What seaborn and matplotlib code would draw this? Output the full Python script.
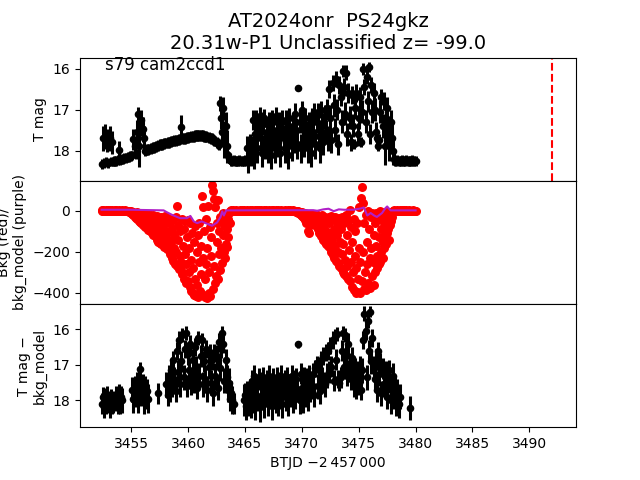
import numpy as np
import matplotlib
matplotlib.use("Agg")
import matplotlib.pyplot as plt
import seaborn as sns

nan = np.nan

# observation cadence of the light curve (days)
t_start = 3452.4
cadence = 0.1

# T mag (top panel), one row per day
t_mag = [
    18.32, 17.70, 18.30, 17.66, 18.28, 17.75, 18.30, 17.70, 18.27, 17.80,
    18.27, 18.26, 18.26, 18.25, 18.24, 17.98, 18.23, 18.22, 18.21, 18.20,
    18.19, 18.18, 18.17, 18.16, 18.15, 18.14, 18.13, 18.12, 17.73, 17.88,
    18.08, 17.55, 17.12, 17.90, 17.35, 17.25, 17.48, 17.70, 18.02, 18.00,
    17.98, 17.97, 17.96, 17.95, 17.94, 17.93, 17.92, 17.91, 17.90, 17.89,
    17.87, 17.86, 17.86, 17.85, 17.84, 17.83, 17.82, 17.82, 17.81, 17.80,
    17.79, 17.78, 17.77, 17.77, 17.76, 17.75, 17.74, 17.74, 17.73, 17.72,
    17.43, 17.71, 17.70, 17.70, 17.69, 17.68, 17.68, 17.67, 17.67, 17.66,
    17.65, 17.65, 17.64, 17.64, 17.63, 17.63, 17.63, 17.63, 17.64, 17.64,
    17.65, 17.65, 17.66, 17.67, 17.68, 17.69, 17.70, 17.71, 17.73, 17.75,
    17.77, 17.80, 17.83, 17.86, 16.85, 17.20, 17.55, 16.95, 17.73, 17.40,
    17.90, 18.12, 18.18, 18.22, 18.25, 18.25, 18.24, 18.25, 18.26, 18.25,
    18.25, 18.24, 18.25, 18.26, 18.25, 18.25, 18.24, 18.25, 17.95, 18.25,
    17.90, 18.25, 18.00, 17.25, 18.10, 17.60, 17.30, 17.95, 17.45, 17.15,
    17.70, 18.05, 17.35, 17.20, 17.85, 17.55, 17.95, 17.30, 17.65, 18.10,
    17.25, 17.60, 17.95, 17.15, 17.50, 17.80, 17.35, 18.05, 17.45, 17.25,
    17.70, 17.95, 17.30, 17.55, 18.10, 17.20, 17.65, 17.90, 17.40, 17.75,
    17.10, 17.50, 17.85, 16.47, 17.30, 17.95, 17.00, 17.45, 17.80, 17.20,
    17.60, 17.95, 17.35, 17.75, 18.05, 17.20, 17.55, 17.05, 17.85, 17.30,
    17.10, 17.65, 17.95, 17.00, 17.40, 17.80, 17.15, 17.55, 16.95, 17.70,
    16.50, 17.20, 17.75, 16.35, 16.90, 17.50, 16.25, 17.00, 17.85, 16.40,
    16.70, 17.30, 16.05, 16.45, 17.10, 16.10, 17.60, 16.60, 17.20, 17.80,
    16.65, 17.40, 17.85, 16.95, 16.60, 17.60, 17.20, 16.70, 17.80, 17.05,
    16.00, 16.45, 17.30, 16.20, 16.80, 15.95, 17.60, 16.40, 17.05, 16.60,
    17.00, 17.55, 17.70, 17.90, 17.75, 17.05, 16.70, 17.40, 16.80, 17.90,
    17.20, 16.95, 17.55, 17.85, 17.30, 17.70, 18.00, 18.20, 18.25, 18.25,
    18.24, 18.25, 18.26, 18.25, 18.24, 18.25, 18.26, 18.25, 18.24, 18.25,
    18.25, 18.26, 18.25, 18.24, 18.25, 18.26, 18.25,
]
t_mag_err = [
    .12, .30, .12, .30, .12, .28, .12, .30, .12, .28,
    .12, .12, .12, .12, .12, .22, .12, .12, .12, .12,
    .12, .12, .12, .12, .12, .12, .12, .12, .25, .22,
    .12, .30, .18, .50, .30, .25, .30, .30, .12, .12,
    .13, .13, .13, .13, .13, .13, .13, .13, .13, .13,
    .13, .13, .13, .13, .13, .13, .13, .13, .13, .13,
    .13, .13, .13, .13, .13, .13, .13, .13, .13, .13,
    .30, .13, .13, .13, .13, .13, .13, .13, .13, .13,
    .13, .13, .13, .13, .13, .13, .13, .13, .13, .13,
    .13, .13, .13, .13, .13, .13, .13, .13, .13, .13,
    .13, .13, .13, .13, .18, .28, .35, .25, .45, .35,
    .40, .12, .12, .12, .12, .12, .12, .12, .12, .12,
    .12, .12, .12, .12, .12, .12, .12, .12, .30, .30,
    .30, .12, .35, .25, .35, .30, .28, .35, .30, .22,
    .32, .35, .28, .22, .35, .30, .35, .25, .30, .35,
    .25, .30, .35, .22, .30, .35, .28, .35, .30, .25,
    .32, .35, .28, .30, .35, .25, .30, .35, .28, .32,
    .25, .30, .35, .06, .28, .35, .20, .30, .35, .25,
    .30, .35, .28, .32, .35, .25, .30, .22, .35, .28,
    .25, .30, .35, .20, .28, .32, .25, .30, .20, .30,
    .22, .30, .30, .20, .28, .30, .20, .25, .25, .22,
    .22, .28, .15, .22, .28, .18, .28, .25, .28, .20,
    .22, .28, .12, .28, .22, .28, .28, .25, .12, .28,
    .15, .20, .28, .18, .25, .12, .25, .20, .28, .25,
    .28, .25, .15, .12, .15, .28, .20, .30, .22, .45,
    .30, .25, .35, .40, .30, .35, .35, .15, .12, .12,
    .12, .12, .12, .12, .12, .12, .12, .12, .12, .12,
    .12, .12, .12, .12, .12, .12, .12,
]

# T mag - bkg_model (bottom panel), nan where there is no point
diff_mag = [
    18.10, 17.90, 18.20, 17.95, 18.15, 17.85, 18.05, 18.20, 17.95, 18.10,
    18.05, nan, nan, 17.95, 18.10, 17.85, 18.05, 17.90, 18.00, nan,
    nan, nan, nan, nan, nan, nan, nan, 17.70, 17.95, 17.60,
    17.85, 17.50, 17.95, 17.40, 17.13, 17.80, 17.55, 18.00, 17.65, 17.90,
    17.75, 17.95, nan, nan, nan, nan, nan, nan, nan, nan,
    17.80, nan, nan, nan, nan, nan, nan, 17.55, 17.85, 17.35,
    17.70, 17.15, 17.55, 16.85, 17.40, 17.75, 16.60, 17.20, 16.30, 17.55,
    16.90, 16.15, 17.35, 16.55, 16.10, 17.60, 16.70, 17.15, 16.40, 17.50,
    16.85, 17.45, 16.50, 17.10, 17.65, 16.25, 17.30, 16.75, 16.30, 17.55,
    16.90, 17.40, 16.55, 17.70, 17.05, 16.70, 17.50, 16.85, 17.80, 16.65,
    17.30, 16.75, 17.65, 16.35, 17.10, 16.55, 16.10, 16.40, 17.45, 16.85,
    17.35, 17.70, 17.50, 17.95, 17.80, 18.00, 18.10, nan, nan, nan,
    nan, nan, nan, nan, nan, 18.00, 17.85, 18.15, 17.75, 18.05,
    17.75, 18.10, 17.45, 17.95, 17.30, 18.15, 17.60, 17.90, 17.40, 18.20,
    17.55, 17.85, 17.35, 18.10, 17.70, 17.45, 18.05, 17.30, 17.80, 17.60,
    18.15, 17.40, 17.75, 17.95, 17.35, 18.05, 17.55, 17.85, 17.30, 18.10,
    17.65, 17.45, 17.90, 17.35, 18.05, 17.60, 17.80, 17.30, 17.95, 17.50,
    17.85, 17.40, 17.70, 16.42, 18.00, 17.25, 17.65, 17.95, 17.35, 17.80,
    17.45, 17.90, 17.30, 17.70, nan, 17.60, 17.25, 17.85, 17.10, 16.96,
    17.60, 17.15, 17.75, 16.85, 17.40, 16.75, 17.55, 16.65, 17.30, 16.60,
    17.20, 16.45, 17.05, 16.30, 17.45, 16.20, 16.85, 16.12, 17.40, 17.50,
    17.35, 16.60, 16.10, 17.05, 16.15, 16.75, 17.30, 16.40, 16.95, 17.40,
    16.80, 17.20, 17.55, 17.10, 17.65, 17.25, 17.50, 17.05, 17.70, 17.15,
    16.30, 15.55, 16.05, 17.35, 15.75, 16.60, 15.50, 16.90, 16.25, 17.10,
    17.40, 16.85, 17.70, 16.60, 17.25, 16.95, 17.80, 17.10, 17.55, 17.30,
    17.20, 17.90, 17.45, 17.15, 18.00, 17.60, 17.30, 17.85, 17.65, 18.05,
    17.75, 18.10, 17.90, nan, nan, nan, nan, nan, nan, nan,
    nan, 18.22, nan, nan, nan, nan, nan,
]
diff_err = [
    .30, .28, .30, .30, .25, .25, .30, .30, .28, .30,
    .30, 0, 0, .35, .30, .30, .35, .30, .35, 0,
    0, 0, 0, 0, 0, 0, 0, .35, .40, .30,
    .35, .30, .40, .35, .20, .35, .30, .40, .35, .35,
    .35, .40, 0, 0, 0, 0, 0, 0, 0, 0,
    .30, 0, 0, 0, 0, 0, 0, .35, .30, .35,
    .35, .30, .35, .25, .35, .30, .25, .35, .25, .35,
    .30, .20, .35, .25, .20, .30, .30, .35, .25, .35,
    .30, .35, .25, .35, .30, .20, .35, .30, .20, .35,
    .30, .35, .25, .35, .35, .30, .35, .30, .35, .25,
    .35, .30, .35, .25, .35, .25, .20, .25, .35, .30,
    .35, .35, .40, .35, .35, .40, .30, 0, 0, 0,
    0, 0, 0, 0, 0, .45, .35, .40, .30, .40,
    .35, .40, .30, .40, .30, .40, .35, .40, .30, .40,
    .35, .40, .30, .40, .35, .30, .40, .30, .40, .35,
    .40, .30, .35, .40, .30, .40, .35, .40, .30, .40,
    .35, .30, .40, .30, .40, .35, .40, .30, .40, .35,
    .40, .30, .35, .10, .40, .30, .35, .40, .30, .40,
    .35, .40, .30, .35, 0, .35, .30, .35, .25, .20,
    .35, .30, .35, .25, .35, .25, .35, .25, .35, .25,
    .30, .25, .30, .25, .30, .20, .30, .20, .25, .25,
    .30, .30, .20, .30, .20, .30, .30, .30, .30, .30,
    .30, .35, .35, .30, .30, .35, .35, .30, .30, .35,
    .25, .20, .25, .35, .20, .30, .15, .35, .25, .35,
    .35, .30, .35, .25, .35, .30, .35, .30, .35, .35,
    .30, .35, .35, .30, .40, .35, .35, .40, .35, .40,
    .35, .40, .35, 0, 0, 0, 0, 0, 0, 0,
    0, .35, 0, 0, 0, 0, 0,
]

# background flux (red), sampled twice as often, one row per day
bkg_cadence = 0.05
bkg = [
    2, -1, 0, 3, -2, 1, 0, -3, 2, 1, -1, 0, 2, -2, 1, 3, 0, -1, 2, 0,
    1, -2, 0, 2, -1, 0, 3, 1, -2, 0, 2, -1, 1, 0, -3, 2, 0, 1, -1, 0,
    0, 2, -1, 1, 0, -2, 1, -3, 0, -4, -6, -3, -10, -5, -15, -8, -20, -12, -28, -18,
    -10, -35, -8, -42, -15, -30, -50, -12, -55, -25, -60, -18, -45, -70, -20, -62, -35, -78, -15, -85,
    -25, -93, -40, -70, -18, -100, -55, -85, -30, -110, -20, -120, -65, -95, -35, -130, -50, -140, -25, -150,
    -80, -45, -155, -110, -30, -160, -70, -130, -40, -175, -95, -25, -165, -120, -60, -185, -140, -35, -190, -100,
    -210, -60, -150, -230, -90, -40, -245, -180, -120, -260, -30, -200, 21, -270, -140, -70, -285, -220, -100, -290,
    -250, -40, -310, -170, -90, -330, -210, -50, -350, -260, -130, -45, -340, -300, -180, -370, -60, -240, -390, -110,
    -400, -280, -150, -410, -330, -75, -415, -200, -360, -120, -420, -250, -60, -390, -310, -170, 70, -405, -230, 20,
    -100, -420, -330, -40, -260, -426, -180, 21, -400, -300, -80, -415, -220, -130, 127, 95, -380, 55, -270, -350,
    20, -320, -150, -60, 54, -330, -210, -100, -30, -290, -180, -40, -254, -120, -11, -200, -70, -230, -20, -160,
    -90, -174, -40, -130, -10, -60, 0, 2, -1, 1, 0, 3, -2, 0, 1, -1, 2, 0, -2, 1,
    0, 1, -2, 2, 0, -1, 3, 0, -2, 1, 0, 2, -1, 0, 1, -3, 2, 0, -1, 1,
    2, 0, -1, 1, -2, 3, 0, 1, -1, 0, 2, -2, 0, 1, 3, -1, 0, 2, -2, 0,
    -1, 2, 0, -2, 1, 0, 3, -1, 0, 2, -3, 1, 0, -1, 2, 0, 1, -2, 0, 3,
    0, -1, 2, 1, -2, 0, 1, 3, -1, 0, 2, 0, -2, 1, 0, -1, 3, 0, 1, -2,
    1, 0, -2, 2, 0, 1, -1, 3, 0, -2, 1, 0, 2, -1, 0, 1, -3, 2, 0, -1,
    0, -2, -5, 1, -8, -3, -12, -6, -15, -4, -20, -10, -25, -8, -30, -15, -35, -12, -45, -20,
    -60, -25, -100, -40, -109, -30, -70, -20, -55, -15, -45, -25, -60, -20, -50, -30, -70, -18, -80, -35,
    -90, -25, -60, -110, -30, -80, -125, -22, -95, -140, -40, -70, -150, -28, -100, -160, -50, -120, -170, -30,
    -60, -180, -110, -25, -200, -140, -40, -215, -90, -230, -30, -170, -245, -120, -60, -255, -200, -35, -270, -150,
    -90, -280, -210, -30, -300, -160, -60, -310, -240, -20, -320, -120, -270, -45, -330, -190, 5, -340, -250, -80,
    -370, -150, -300, -40, -385, -220, -100, -400, -280, -60, -395, -330, -180, 20, -400, -250, 60, -340, 118, 40,
    -200, -380, -60, -300, -20, -385, -150, -260, 0, -350, -90, -230, -375, -30, -180, -320, -10, -250, -120, -360,
    -60, -300, -170, -10, -280, -220, -40, -260, -130, 0, -250, -90, -200, -20, -150, -230, -60, -180, -5, -120,
    -160, -40, -110, -8, -90, -140, -20, -70, -50, -5, -30, -10, 0, -3, 2, 0, -1, 1, 0, 2,
    1, 0, -2, 1, 0, 2, -1, 0, 3, -1, 0, 2, -2, 1, 0, -1, 2, 0, 1, -1,
    0, 2, -1, 0, 1, -2, 0, 3, -1, 1, 0, -2, 1,
]

# background model (purple)
t_model = [3452.4, 3454.9, 3457.85, 3458.1, 3458.6, 3459.3, 3459.9, 3460.2, 3460.5, 3460.8,
           3461.2, 3461.7, 3462.1, 3462.55, 3462.85, 3463.0, 3463.15, 3463.35, 3463.6, 3471.0,
           3471.35, 3471.9, 3472.35, 3472.8, 3473.25, 3473.7, 3474.55, 3475.15, 3475.45, 3475.75,
           3476.05, 3476.35, 3476.6, 3477.05, 3477.35, 3477.5, 3477.8, 3480.0]
bkg_model = [5, 5, 2, -6, -20, -36, -36, -25, -52, -60,
             -52, -64, -73, -57, -31, -3, -23, 2, 2, 3,
             0, 7, 10, -2, 7, 5, 5, 11, 16, -23,
             -11, -23, -30, -11, 13, 21, 2, 2]

t_peak = 3492.0

t_obs = t_start + cadence * np.arange(len(t_mag))
t_bkg = t_start + bkg_cadence * np.arange(len(bkg))
t_mag = np.array(t_mag)
diff_mag = np.array(diff_mag)

fig, axes = plt.subplots(3, 1, sharex=True, figsize=(6.4, 4.8), dpi=100)
fig.subplots_adjust(hspace=0)
ax0, ax1, ax2 = axes

# top: T mag
ax0.errorbar(t_obs, t_mag, yerr=t_mag_err, fmt='none', ecolor='k', elinewidth=2.2, capsize=0)
sns.scatterplot(x=t_obs, y=t_mag, ax=ax0, color='k', s=30, linewidth=0, zorder=3)
ax0.axvline(t_peak, color='r', ls='--', lw=1.5)
ax0.set_ylim(18.74, 15.73)
ax0.set_yticks([16, 17, 18])
ax0.set_ylabel('T mag')
ax0.text(0.05, 0.9, 's79 cam2ccd1', transform=ax0.transAxes, fontsize=12)
ax0.set_title('AT2024onr  PS24gkz\n20.31w-P1 Unclassified z= -99.0', fontsize=14)

# middle: background
sns.scatterplot(x=t_bkg, y=bkg, ax=ax1, color='r', s=42, linewidth=0)
sns.lineplot(x=t_model, y=bkg_model, ax=ax1, color='#b020c8', lw=1.5)
ax1.set_ylim(-454, 146)
ax1.set_ylabel('Bkg (red)/\nbkg_model (purple)')

# bottom: T mag - bkg_model
ax2.errorbar(t_obs, diff_mag, yerr=diff_err, fmt='none', ecolor='k', elinewidth=2.2, capsize=0)
sns.scatterplot(x=t_obs, y=diff_mag, ax=ax2, color='k', s=30, linewidth=0, zorder=3)
ax2.set_ylim(18.76, 15.28)
ax2.set_yticks([16, 17, 18])
ax2.set_ylabel('T mag \u2212\nbkg_model')

ax2.set_xlim(3450.5, 3494.1)
ax2.set_xticks([3455, 3460, 3465, 3470, 3475, 3480, 3485, 3490])
ax2.set_xlabel('BTJD \u22122\u2009457\u2009000')

fig.savefig('out.png', dpi=100)
